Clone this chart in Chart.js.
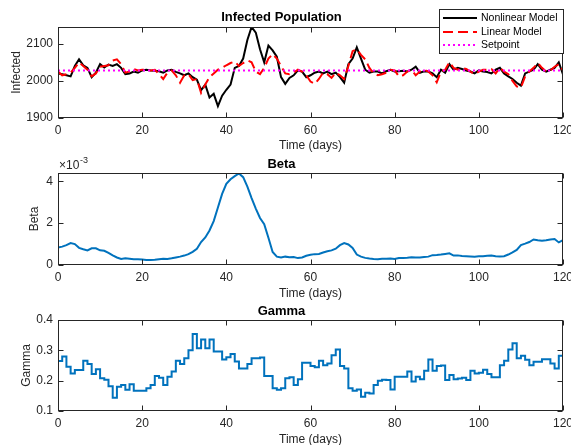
<!DOCTYPE html>
<html>
<head>
<meta charset="utf-8">
<script src="https://cdn.jsdelivr.net/npm/chart.js@4.4.1/dist/chart.umd.min.js"></script>
<style>
  html, body { margin: 0; padding: 0; background: #fff; overflow: hidden; }
  #wrap { position: relative; width: 571px; height: 445px; overflow: hidden; }
  canvas { position: absolute; left: 0; }
</style>
</head>
<body>
<div id="wrap">
  <canvas id="infChart" width="571" height="155" style="top:0px"></canvas>
  <canvas id="betaChart" width="571" height="152" style="top:150px"></canvas>
  <canvas id="gammaChart" width="571" height="155" style="top:296px"></canvas>
</div>
<script>
const FONT = "'Liberation Sans', Arial, Helvetica, sans-serif";
const AXIS_COLOR = '#262626';

// tick values
const dayTicks = [0, 20, 40, 60, 80, 100, 120];
const infectedTicks = [1900, 2000, 2100];
const betaTicks = [0, 0.002, 0.004];
const gammaTicks = [0.1, 0.2, 0.3, 0.4];

// one value per day, day 0 .. 120
const nonlinearModel = [
  2020, 2018, 2015, 2012, 2040, 2058, 2042, 2035, 2010, 2022,
  2045, 2036, 2044, 2040, 2045, 2035, 2018, 2020, 2025, 2022,
  2028, 2030, 2028, 2027, 2026, 2022, 2028, 2030, 2024, 2020,
  2015, 2020, 2010, 2003, 1975, 1990, 1955, 1965, 1932, 1960,
  1976, 1990, 2035, 2040, 2060, 2110, 2145, 2130, 2085, 2050,
  2095, 2082, 2065, 2010, 1992, 2008, 2015, 2028, 2025, 2010,
  2015, 2022, 2025, 2020, 2025, 2018, 2022, 2010, 1995, 2045,
  2060, 2090, 2060, 2030, 2022, 2025, 2025, 2020, 2026, 2030,
  2025, 2026, 2027, 2025, 2030, 2038, 2022, 2026, 2025, 2020,
  2010, 2030, 2022, 2045, 2030, 2035, 2032, 2028, 2025, 2020,
  2028, 2025, 2024, 2020, 2030, 2035, 2020, 2012, 2005, 1995,
  1987, 2020, 2025, 2030, 2045, 2030, 2025, 2030, 2035, 2050,
  2017
];
const linearModel = [
  2025, 2015, 2018, 2022, 2035, 2050, 2040, 2030, 2012, 2020,
  2038, 2040, 2042, 2055, 2058, 2045, 2022, 2025, 2032, 2028,
  2030, 2030, 2028, 2030, 2018, 2005, 2022, 2028, 2015, 1995,
  2015, 2018, 2002, 2005, 1968, 1990, 2010, 2020, 2030, 2035,
  2042, 2048, 2052, 2040, 2048, 2055, 2050, 2025, 2018, 2035,
  2060, 2072, 2060, 2040, 2020, 2018, 2022, 2030, 2025, 2015,
  1998, 1992, 2005, 2022, 2018, 2008, 2022, 2015, 2005, 2040,
  2080, 2085, 2070, 2058, 2035, 2020, 2015, 2018, 2022, 2030,
  2028, 2012, 2015, 2025, 2030, 2015, 2025, 2030, 2025, 2015,
  1996, 2025, 2030, 2050, 2035, 2030, 2035, 2032, 2025, 2018,
  2025, 2030, 2030, 2032, 2020, 2035, 2025, 2018, 2000, 1985,
  1982, 2012, 2025, 2035, 2048, 2035, 2025, 2028, 2038, 2045,
  2028
];
const setpoint = 2028;

const beta = [
  0.00083, 0.00088, 0.00095, 0.00105, 0.00100, 0.00082, 0.00075, 0.00070, 0.00080, 0.00080,
  0.00070, 0.00068, 0.00058, 0.00046, 0.00036, 0.00029, 0.00032, 0.00030, 0.00027, 0.00028,
  0.00026, 0.00024, 0.00024, 0.00025, 0.00028, 0.00030, 0.00029, 0.00032, 0.00036, 0.00040,
  0.00045, 0.00052, 0.00063, 0.00078, 0.00110, 0.00132, 0.00165, 0.00210, 0.00275, 0.00340,
  0.00388, 0.00410, 0.00425, 0.00438, 0.00420, 0.00375, 0.00320, 0.00270, 0.00225, 0.00195,
  0.00130, 0.00062, 0.00040, 0.00036, 0.00040, 0.00037, 0.00038, 0.00033, 0.00036, 0.00044,
  0.00049, 0.00052, 0.00053, 0.00060, 0.00066, 0.00070, 0.00078, 0.00095, 0.00105, 0.00098,
  0.00082, 0.00050, 0.00040, 0.00034, 0.00031, 0.00029, 0.00028, 0.00030, 0.00030, 0.00031,
  0.00029, 0.00033, 0.00034, 0.00035, 0.00037, 0.00036, 0.00036, 0.00038, 0.00040, 0.00047,
  0.00048, 0.00050, 0.00053, 0.00056, 0.00045, 0.00046, 0.00043, 0.00042, 0.00041, 0.00040,
  0.00042, 0.00042, 0.00044, 0.00045, 0.00042, 0.00041, 0.00042, 0.00050, 0.00060, 0.00072,
  0.00095, 0.00102, 0.00110, 0.00122, 0.00118, 0.00116, 0.00118, 0.00122, 0.00124, 0.00108,
  0.00119
];

const gamma = [
  0.270, 0.265, 0.280, 0.246, 0.224, 0.235, 0.235, 0.266, 0.255, 0.222,
  0.238, 0.208, 0.203, 0.182, 0.144, 0.180, 0.186, 0.170, 0.188, 0.167,
  0.167, 0.167, 0.175, 0.186, 0.215, 0.210, 0.186, 0.213, 0.230, 0.266,
  0.255, 0.274, 0.300, 0.354, 0.307, 0.336, 0.307, 0.336, 0.296, 0.296,
  0.270, 0.277, 0.288, 0.263, 0.240, 0.240, 0.255, 0.274, 0.274, 0.276,
  0.215, 0.215, 0.175, 0.170, 0.175, 0.208, 0.211, 0.186, 0.205, 0.259,
  0.259, 0.248, 0.244, 0.266, 0.251, 0.257, 0.284, 0.303, 0.248, 0.240,
  0.175, 0.167, 0.171, 0.147, 0.160, 0.158, 0.186, 0.200, 0.203, 0.202,
  0.171, 0.213, 0.213, 0.213, 0.230, 0.197, 0.213, 0.205, 0.233, 0.270,
  0.233, 0.248, 0.250, 0.202, 0.219, 0.205, 0.207, 0.210, 0.202, 0.233,
  0.224, 0.226, 0.236, 0.222, 0.211, 0.211, 0.251, 0.266, 0.303, 0.323,
  0.274, 0.282, 0.269, 0.251, 0.262, 0.262, 0.271, 0.271, 0.257, 0.240,
  0.282
];

const toXY = arr => arr.map((v, i) => ({ x: i, y: v }));

// box round the axes + inward ticks, like matlab
const boxPlugin = {
  id: 'matlabBox',
  afterDatasetsDraw(chart) {
    const { ctx, chartArea: a, scales } = chart;
    const L = Math.round(a.left) + 0.5, R = Math.round(a.right) - 0.5;
    const T = Math.round(a.top) + 0.5, B = Math.round(a.bottom) - 0.5;
    ctx.save();
    ctx.strokeStyle = AXIS_COLOR;
    ctx.lineWidth = 1;
    ctx.beginPath();
    scales.x.ticks.forEach(t => {
      const px = Math.round(scales.x.getPixelForValue(t.value)) + 0.5;
      ctx.moveTo(px, T); ctx.lineTo(px, T + 5);
      ctx.moveTo(px, B); ctx.lineTo(px, B - 5);
    });
    scales.y.ticks.forEach(t => {
      const py = Math.round(scales.y.getPixelForValue(t.value)) + 0.5;
      ctx.moveTo(L, py); ctx.lineTo(L + 5, py);
      ctx.moveTo(R, py); ctx.lineTo(R - 5, py);
    });
    ctx.stroke();
    ctx.strokeRect(L, T, R - L, B - T);
    ctx.restore();
  }
};

// legend box drawn over the top right of the infected plot
const legendPlugin = {
  id: 'boxLegend',
  afterDraw(chart, args, opts) {
    if (!opts.show) return;
    const ctx = chart.ctx;
    const x0 = 439.5, y0 = 9.5, w = 124, h = 44;
    ctx.save();
    ctx.fillStyle = '#fff';
    ctx.fillRect(x0, y0, w, h);
    ctx.strokeStyle = AXIS_COLOR;
    ctx.lineWidth = 1;
    ctx.strokeRect(x0, y0, w, h);
    const rows = [18, 32, 45];
    chart.data.datasets.forEach((ds, i) => {
      ctx.beginPath();
      ctx.strokeStyle = ds.borderColor;
      ctx.lineWidth = ds.borderWidth;
      ctx.setLineDash(ds.borderDash || []);
      ctx.moveTo(443, rows[i]);
      ctx.lineTo(477, rows[i]);
      ctx.stroke();
      ctx.setLineDash([]);
      ctx.fillStyle = '#000';
      ctx.font = '10.5px ' + FONT;
      ctx.textBaseline = 'middle';
      ctx.textAlign = 'left';
      ctx.fillText(ds.label, 481, rows[i]);
    });
    ctx.restore();
  }
};

// the x10^-3 exponent label on the beta axis
const expPlugin = {
  id: 'expLabel',
  afterDraw(chart, args, opts) {
    if (!opts.show) return;
    const ctx = chart.ctx;
    ctx.save();
    ctx.fillStyle = AXIS_COLOR;
    ctx.textBaseline = 'middle';
    ctx.textAlign = 'left';
    ctx.font = '12px ' + FONT;
    ctx.fillText('\u00d710', 59, 16);
    ctx.font = '9px ' + FONT;
    ctx.fillText('-3', 80, 11);
    ctx.restore();
  }
};

function makeOptions(cfg) {
  return {
    responsive: false,
    animation: false,
    events: [],
    layout: { padding: { left: 0, right: 8, top: 0, bottom: 0 } },
    elements: { point: { radius: 0 }, line: { tension: 0 } },
    plugins: {
      legend: { display: false },
      tooltip: { enabled: false },
      title: {
        display: true,
        text: cfg.title,
        color: '#000',
        font: { family: FONT, size: 13, weight: 'bold', lineHeight: 1.2 },
        padding: cfg.titlePad
      },
      boxLegend: { show: !!cfg.legend },
      expLabel: { show: !!cfg.exponent }
    },
    scales: {
      x: {
        type: 'linear',
        min: 0,
        max: 120,
        grid: { display: false, drawTicks: false },
        border: { display: false },
        afterBuildTicks: s => { s.ticks = dayTicks.map(v => ({ value: v })); },
        afterFit: s => { s.height = cfg.xHeight; s.paddingLeft = 0; s.paddingRight = 0; },
        ticks: {
          color: AXIS_COLOR, padding: 5, maxRotation: 0, autoSkip: false,
          font: { family: FONT, size: 12, lineHeight: 1.2 },
          callback: v => String(v)
        },
        title: {
          display: true, text: 'Time (days)', color: AXIS_COLOR,
          font: { family: FONT, size: 12, lineHeight: 1.2 },
          padding: { top: 0, bottom: cfg.xTitlePad }
        }
      },
      y: {
        type: 'linear',
        min: cfg.yMin,
        max: cfg.yMax,
        grid: { display: false, drawTicks: false },
        border: { display: false },
        afterBuildTicks: s => { s.ticks = cfg.yTicks.map(v => ({ value: v })); },
        afterFit: s => { s.width = 58; s.paddingTop = 0; s.paddingBottom = 0; },
        ticks: {
          color: AXIS_COLOR, padding: 5,
          font: { family: FONT, size: 12, lineHeight: 1.2 },
          callback: cfg.yFormat
        },
        title: {
          display: true, text: cfg.yTitle, color: AXIS_COLOR,
          font: { family: FONT, size: 12, lineHeight: 1.2 },
          padding: { top: cfg.yTitlePad, bottom: 0 }
        }
      }
    }
  };
}

new Chart(document.getElementById('infChart'), {
  type: 'line',
  data: {
    datasets: [
      { label: 'Nonlinear Model', data: toXY(nonlinearModel), borderColor: '#000000', borderWidth: 2, order: 3 },
      { label: 'Linear Model', data: toXY(linearModel), borderColor: '#FF0000', borderWidth: 2, borderDash: [10, 5], order: 2 },
      { label: 'Setpoint', data: [{ x: 0, y: setpoint }, { x: 120, y: setpoint }], borderColor: '#FF00FF', borderWidth: 2, borderDash: [2, 3], order: 1 }
    ]
  },
  options: makeOptions({
    title: 'Infected Population', titlePad: { top: 9.2, bottom: 2.2 },
    xHeight: 37, xTitlePad: 1.8,
    yMin: 1900, yMax: 2145, yTicks: infectedTicks, yTitle: 'Infected', yTitlePad: 9.5,
    yFormat: v => String(v), legend: true
  }),
  plugins: [boxPlugin, legendPlugin]
});

new Chart(document.getElementById('betaChart'), {
  type: 'line',
  data: {
    datasets: [
      { label: 'Beta', data: toXY(beta), borderColor: '#0072BD', borderWidth: 2 }
    ]
  },
  options: makeOptions({
    title: 'Beta', titlePad: { top: 6.2, bottom: 1.2 },
    xHeight: 37, xTitlePad: 0.8,
    yMin: 0, yMax: 0.0044, yTicks: betaTicks, yTitle: 'Beta', yTitlePad: 27.8,
    yFormat: v => (v * 1000).toFixed(0), exponent: true
  }),
  plugins: [boxPlugin, expPlugin]
});

new Chart(document.getElementById('gammaChart'), {
  type: 'line',
  data: {
    datasets: [
      { label: 'Gamma', data: toXY(gamma), borderColor: '#0072BD', borderWidth: 2, stepped: 'after' }
    ]
  },
  options: makeOptions({
    title: 'Gamma', titlePad: { top: 7.2, bottom: 1.2 },
    xHeight: 40, xTitlePad: 3.8,
    yMin: 0.1, yMax: 0.4, yTicks: gammaTicks, yTitle: 'Gamma', yTitlePad: 19.5,
    yFormat: v => v.toFixed(1)
  }),
  plugins: [boxPlugin]
});
</script>
</body>
</html>
